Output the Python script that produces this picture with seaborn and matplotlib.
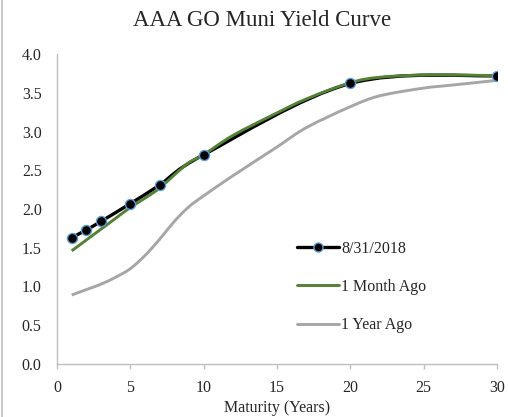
import numpy as np
import pandas as pd
import seaborn as sns
import matplotlib
matplotlib.use("Agg")
import matplotlib.pyplot as plt
from matplotlib.path import Path
from matplotlib.patches import PathPatch
from matplotlib.lines import Line2D

# ---------------- data ----------------
current_label = "8/31/2018"
current_maturity = [1, 2, 3, 5, 7, 10, 20, 30]
current_yield = [1.63, 1.73, 1.84, 2.07, 2.31, 2.70, 3.62, 3.72]

month_label = "1 Month Ago"
month_maturity = [1, 2, 3, 4, 5, 6, 7, 8, 9, 10, 12, 15, 17, 20, 22, 25, 27, 30]
month_yield = [1.46, 1.60, 1.74, 1.88, 2.02, 2.14, 2.27, 2.44, 2.60, 2.70,
               2.95, 3.24, 3.42, 3.63, 3.70, 3.73, 3.73, 3.72]

year_label = "1 Year Ago"
year_maturity = [1, 2, 3, 4, 5, 6, 7, 8, 9, 10, 12, 15, 17, 20, 22, 25, 27, 30]
year_yield = [0.89, 0.96, 1.03, 1.12, 1.23, 1.40, 1.61, 1.84, 2.03, 2.17,
              2.43, 2.80, 3.05, 3.32, 3.46, 3.56, 3.60, 3.66]

x_ticks = [0, 5, 10, 15, 20, 25, 30]
y_ticks = [0.0, 0.5, 1.0, 1.5, 2.0, 2.5, 3.0, 3.5, 4.0]
title = "AAA GO Muni Yield Curve"
x_label = "Maturity (Years)"

BLACK = "#000000"
GREEN = "#548235"
GRAY = "#A6A6A6"
MARKER_EDGE = "#5B9BD5"
AXIS_GRAY = "#BFBFBF"

sns.set_style("white")
plt.rcParams["font.family"] = ["Liberation Serif", "DejaVu Serif"]

fig = plt.figure(figsize=(5.08, 4.17), dpi=100)
ax = fig.add_axes([57 / 508, 1 - 364 / 417, 440 / 508, 310 / 417])

df_month = pd.DataFrame({"x": month_maturity, "y": month_yield})
df_year = pd.DataFrame({"x": year_maturity, "y": year_yield})
df_cur = pd.DataFrame({"x": current_maturity, "y": current_yield})


# Excel-style smoothed line rendering (Bezier through the data points)
def smooth_path(xs, ys):
    pts = np.column_stack([xs, ys]).astype(float)
    n = len(pts)
    verts = [tuple(pts[0])]
    codes = [Path.MOVETO]
    for i in range(n - 1):
        p0 = pts[i - 1] if i > 0 else pts[i]
        p1 = pts[i]
        p2 = pts[i + 1]
        p3 = pts[i + 2] if i + 2 < n else pts[i + 1]
        c1 = p1 + (p2 - p0) / 6.0
        c2 = p2 - (p3 - p1) / 6.0
        verts += [tuple(c1), tuple(c2), tuple(p2)]
        codes += [Path.CURVE4] * 3
    return Path(verts, codes)


def smooth_line(df, color, lw, z):
    ax.add_patch(PathPatch(smooth_path(df["x"], df["y"]), facecolor="none",
                           edgecolor=color, lw=lw, zorder=z, capstyle="butt",
                           joinstyle="round"))


smooth_line(df_cur, BLACK, 2.4, 2)
smooth_line(df_year, GRAY, 2.1, 3)
smooth_line(df_month, GREEN, 2.1, 3)
sns.scatterplot(data=df_cur, x="x", y="y", ax=ax, color=BLACK, s=52,
                edgecolor=MARKER_EDGE, linewidth=1.0, zorder=5)

ax.set_xlim(0, 30)
ax.set_ylim(0, 4)
ax.set_xticks(x_ticks)
ax.set_yticks(y_ticks)
ax.set_yticklabels([f"{v:.1f}" for v in y_ticks])
ax.set_xticklabels([str(v) for v in x_ticks])
ax.set_xlabel(x_label, fontsize=11.5, labelpad=3)
ax.set_ylabel("")

for side in ["top", "right"]:
    ax.spines[side].set_visible(False)
for side in ["left", "bottom"]:
    ax.spines[side].set_color(AXIS_GRAY)
    ax.spines[side].set_linewidth(1.0)
ax.tick_params(axis="x", direction="out", length=3.5, width=1.0, color=AXIS_GRAY,
               labelsize=11.5, pad=8, bottom=True)
ax.tick_params(axis="y", length=0, labelsize=11.5, pad=11)
ax.grid(False)
ax.set_facecolor("white")

handles = [
    Line2D([0], [0], color=BLACK, lw=2.4, marker="o", markersize=6.5,
           markerfacecolor=BLACK, markeredgecolor=MARKER_EDGE, markeredgewidth=1.0),
    Line2D([0], [0], color=GREEN, lw=2.1),
    Line2D([0], [0], color=GRAY, lw=2.1),
]
ax.legend(handles, [current_label, month_label, year_label], loc="center left",
          bbox_to_anchor=((297 - 57) / 440, (364 - 287) / 310), frameon=False,
          fontsize=11.5, handlelength=2.6, handletextpad=0.15, labelspacing=1.4,
          borderpad=0, borderaxespad=0)

fig.text(262 / 508, 1 - 21 / 417, title, ha="center", va="center", fontsize=16.5)

# chart-area border line on the left
fig.add_artist(Line2D([2 / 508, 2 / 508], [0, 1], transform=fig.transFigure,
                      color=AXIS_GRAY, lw=1.2))

fig.savefig("out.png", dpi=100, facecolor="white")
